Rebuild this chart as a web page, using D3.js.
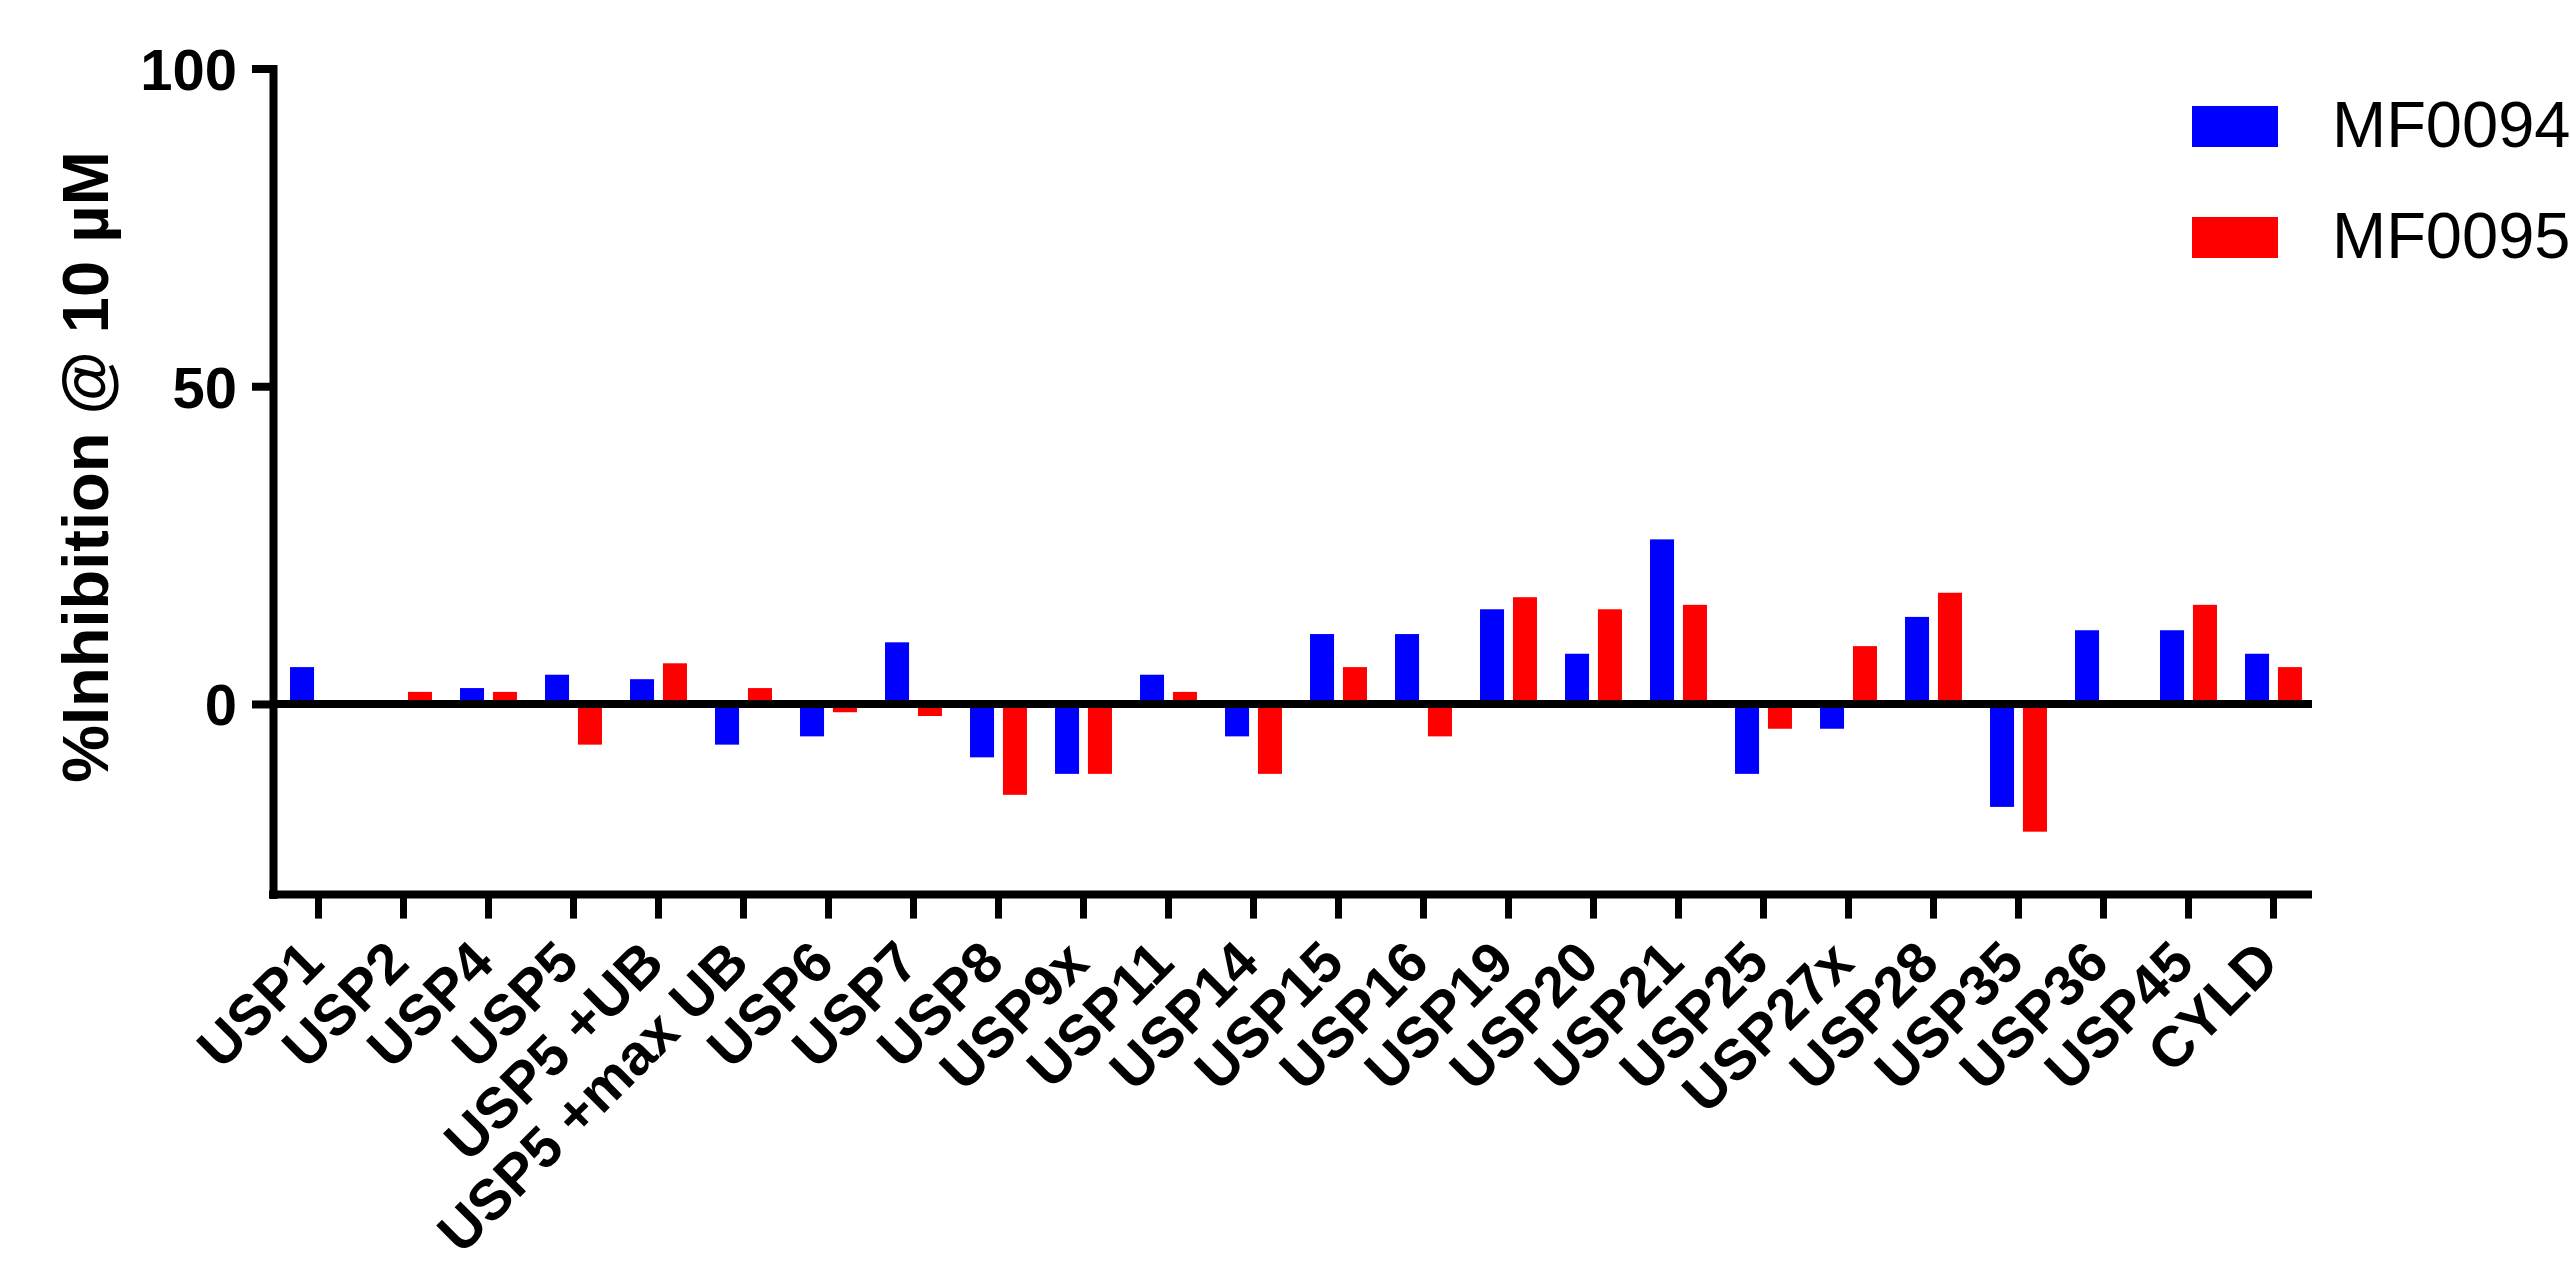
<!DOCTYPE html>
<html>
<head>
<meta charset="utf-8">
<script src="https://cdn.jsdelivr.net/npm/d3@7/dist/d3.min.js"></script>
<style>
  body { margin: 0; background: #fff; }
  svg text { font-family: "Liberation Sans", Arial, sans-serif; fill: #000; }
</style>
</head>
<body>
<script>
// data
var categories = ["USP1", "USP2", "USP4", "USP5", "USP5 +UB", "USP5 +max UB", "USP6", "USP7",
    "USP8", "USP9x", "USP11", "USP14", "USP15", "USP16", "USP19", "USP20", "USP21", "USP25",
    "USP27x", "USP28", "USP35", "USP36", "USP45", "CYLD"];
var mf0094 = [5.8, 0, 2.5, 4.6, 3.9, -6.4, -5.1, 9.7, -8.4, -11, 4.6, -5.1, 11, 11, 14.9, 7.9,
    25.9, -11, -3.9, 13.7, -16.2, 11.6, 11.6, 7.9];
var mf0095 = [0, 1.9, 1.9, -6.4, 6.4, 2.5, -1.3, -1.9, -14.3, -11, 1.9, -11, 5.8, -5.1, 16.8,
    14.9, 15.6, -3.9, 9.1, 17.5, -20.1, 0, 15.6, 5.8];
var seriesNames = ["MF0094", "MF0095"];
var seriesColors = ["#0000ff", "#ff0000"];
var yTicks = [0, 50, 100];

const w = 2570,
    h = 1270;
const svg = d3.select("body")
    .append("svg")
    .attr("width", w)
    .attr("height", h);

const axisX = 273; // y axis line position
const lw = 8;      // axis stroke width

var xScale = d3.scaleBand()
    .domain(categories)
    .range([276, 2316])
    .paddingInner(0.33)
    .paddingOuter(0.165);

var xInner = d3.scaleBand()
    .domain(seriesNames)
    .range([0, xScale.bandwidth()])
    .paddingInner(0.27);

var yScale = d3.scaleLinear()
    .domain([-30, 100])
    .range([894.6, 68.5]);

var rows = categories.map((c, i) => ({ cat: c, values: [mf0094[i], mf0095[i]] }));

// bars
svg.append("g")
    .selectAll("g")
    .data(rows)
    .enter()
    .append("g")
    .attr("transform", (d) => "translate(" + xScale(d.cat) + ",0)")
    .selectAll("rect")
    .data((d) => d.values.map((v, j) => ({ s: seriesNames[j], v: v, color: seriesColors[j] })))
    .enter()
    .append("rect")
    .attr("x", (d) => xInner(d.s))
    .attr("y", (d) => yScale(Math.max(0, d.v)))
    .attr("width", xInner.bandwidth())
    .attr("height", (d) => Math.abs(yScale(d.v) - yScale(0)))
    .attr("fill", (d) => d.color);

// zero line
svg.append("line")
    .attr("x1", axisX)
    .attr("x2", xScale.range()[1] - 4)
    .attr("y1", yScale(0))
    .attr("y2", yScale(0))
    .attr("stroke", "#000")
    .attr("stroke-width", lw);

// y axis
var yAxis = d3.axisLeft(yScale)
    .tickValues(yTicks)
    .tickSize(21)
    .tickSizeOuter(0)
    .tickPadding(15);

var gy = svg.append("g")
    .attr("transform", "translate(" + axisX + ",0)")
    .call(yAxis);
gy.select(".domain")
    .attr("stroke-width", lw)
    .attr("stroke-linecap", "square");
gy.selectAll(".tick line").attr("stroke-width", lw);
gy.selectAll(".tick text")
    .attr("dy", "0.36em")
    .style("font-size", "58px")
    .style("font-weight", "bold")
    .style("font-family", '"Liberation Sans", Arial, sans-serif');

// x axis
var xAxis = d3.axisBottom(xScale)
    .tickSize(24)
    .tickSizeOuter(0);

var gx = svg.append("g")
    .attr("transform", "translate(0," + yScale(-30) + ")")
    .call(xAxis);
gx.select(".domain").remove();
gx.append("line")
    .attr("x1", axisX - lw / 2)
    .attr("x2", xScale.range()[1] - 4)
    .attr("stroke", "#000")
    .attr("stroke-width", lw);
gx.selectAll(".tick line").attr("stroke-width", 7);
gx.selectAll(".tick text")
    .attr("y", 0)
    .attr("dy", 0)
    .attr("transform", "translate(8,71) rotate(-45)")
    .style("text-anchor", "end")
    .style("font-size", "57px")
    .style("font-weight", "bold")
    .style("font-family", '"Liberation Sans", Arial, sans-serif');

// y title
svg.append("text")
    .attr("transform", "translate(108,467) rotate(-90)")
    .attr("text-anchor", "middle")
    .style("font-size", "65px")
    .style("font-weight", "bold")
    .text("%Inhibition @ 10 µM");

// legend
var legend = svg.append("g")
    .selectAll("g")
    .data(seriesNames)
    .enter()
    .append("g")
    .attr("transform", (d, i) => "translate(2192," + (147 + i * 111) + ")");
legend.append("rect")
    .attr("x", 0)
    .attr("y", -41)
    .attr("width", 86)
    .attr("height", 41)
    .attr("fill", (d, i) => seriesColors[i]);
legend.append("text")
    .attr("x", 140)
    .attr("y", 0)
    .style("font-size", "65px")
    .text((d) => d);
</script>
</body>
</html>
